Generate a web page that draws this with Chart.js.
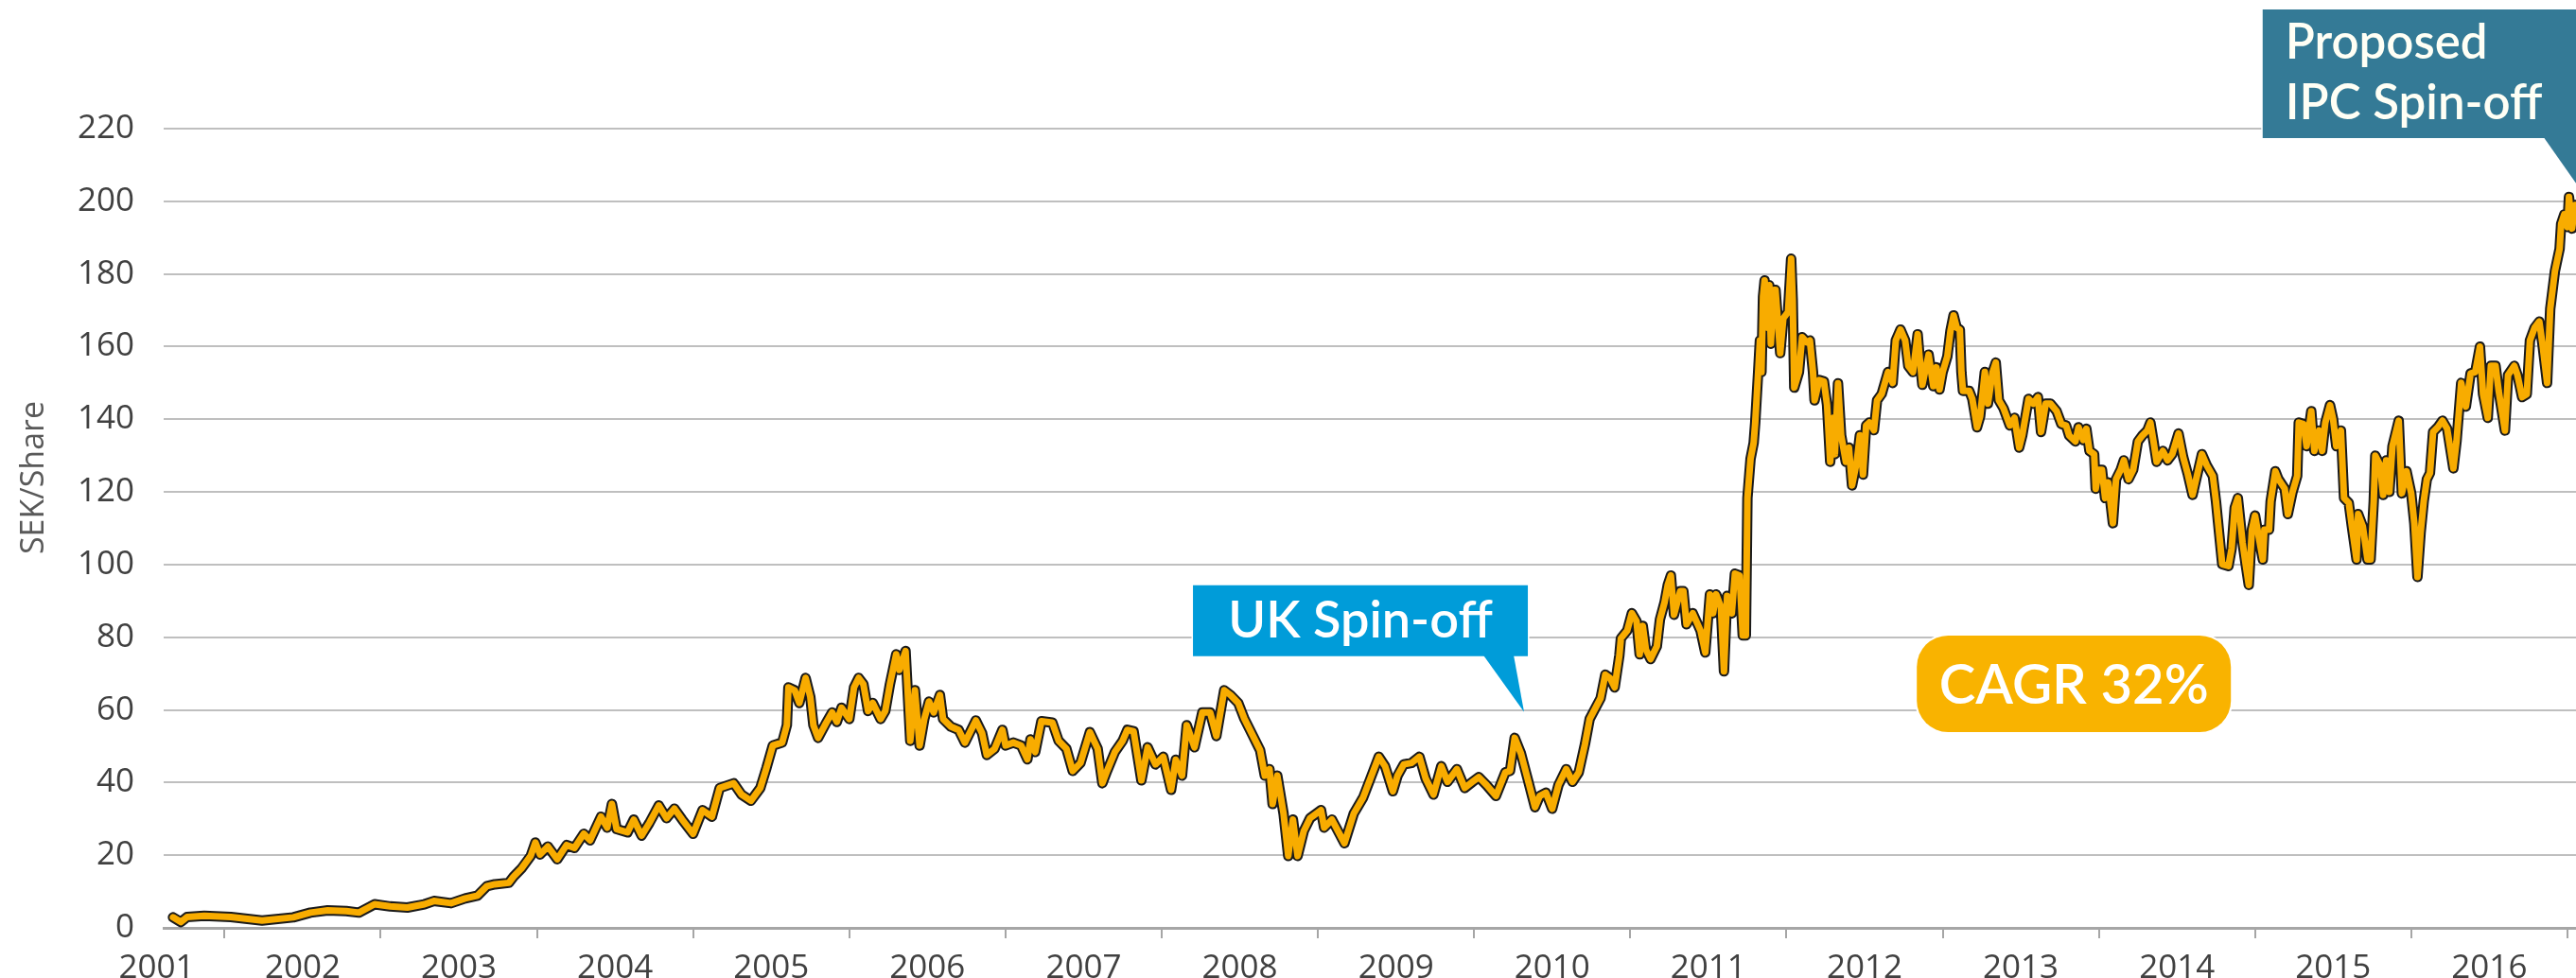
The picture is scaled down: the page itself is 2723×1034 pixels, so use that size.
<!DOCTYPE html>
<html>
<head>
<meta charset="utf-8">
<script src="https://cdn.jsdelivr.net/npm/chart.js@4.4.1/dist/chart.umd.min.js"></script>
<style>
  html, body { margin: 0; padding: 0; background: #fff; }
  #wrap { width: 2723px; height: 1034px; position: relative; }
</style>
</head>
<body>
<div id="wrap"><canvas id="priceChart"></canvas></div>
<script>
// share price, SEK (decimal years)
const dates = [
  2001.67, 2001.72, 2001.76, 2001.87, 2002.04, 2002.24, 2002.44, 2002.55, 2002.66, 2002.78,
  2002.86, 2002.96, 2003.06, 2003.17, 2003.28, 2003.34, 2003.45, 2003.54, 2003.62, 2003.68,
  2003.73, 2003.82, 2003.85, 2003.90, 2003.96, 2003.99, 2004.02, 2004.07, 2004.13, 2004.19,
  2004.24, 2004.30, 2004.34, 2004.41, 2004.45, 2004.48, 2004.51, 2004.58, 2004.62, 2004.67,
  2004.72, 2004.78, 2004.83, 2004.88, 2004.93, 2005.00, 2005.06, 2005.12, 2005.17, 2005.26,
  2005.31, 2005.37, 2005.43, 2005.47, 2005.51, 2005.57, 2005.60, 2005.61, 2005.65, 2005.68,
  2005.72, 2005.75, 2005.77, 2005.80, 2005.85, 2005.89, 2005.92, 2005.95, 2006.00, 2006.03,
  2006.06, 2006.09, 2006.12, 2006.15, 2006.20, 2006.23, 2006.26, 2006.30, 2006.32, 2006.36,
  2006.39, 2006.42, 2006.45, 2006.48, 2006.51, 2006.54, 2006.58, 2006.60, 2006.65, 2006.70,
  2006.74, 2006.81, 2006.85, 2006.88, 2006.93, 2006.98, 2007.00, 2007.05, 2007.10, 2007.14,
  2007.16, 2007.19, 2007.23, 2007.30, 2007.34, 2007.39, 2007.43, 2007.48, 2007.54, 2007.59,
  2007.62, 2007.65, 2007.70, 2007.75, 2007.78, 2007.82, 2007.87, 2007.91, 2007.96, 2008.01,
  2008.06, 2008.09, 2008.13, 2008.16, 2008.21, 2008.26, 2008.31, 2008.35, 2008.40, 2008.44,
  2008.49, 2008.53, 2008.58, 2008.63, 2008.66, 2008.69, 2008.71, 2008.74, 2008.78, 2008.81,
  2008.84, 2008.87, 2008.91, 2008.95, 2009.02, 2009.04, 2009.09, 2009.17, 2009.23, 2009.29,
  2009.34, 2009.39, 2009.43, 2009.48, 2009.51, 2009.55, 2009.60, 2009.65, 2009.69, 2009.74,
  2009.79, 2009.83, 2009.89, 2009.94, 2009.99, 2010.03, 2010.08, 2010.14, 2010.20, 2010.23,
  2010.26, 2010.30, 2010.34, 2010.39, 2010.42, 2010.46, 2010.50, 2010.54, 2010.59, 2010.63,
  2010.67, 2010.71, 2010.74, 2010.81, 2010.84, 2010.87, 2010.90, 2010.93, 2010.94, 2010.98,
  2011.01, 2011.04, 2011.06, 2011.08, 2011.10, 2011.13, 2011.17, 2011.19, 2011.22, 2011.24,
  2011.26, 2011.28, 2011.32, 2011.34, 2011.36, 2011.40, 2011.45, 2011.48, 2011.51, 2011.53,
  2011.55, 2011.58, 2011.60, 2011.62, 2011.65, 2011.67, 2011.70, 2011.72, 2011.74, 2011.75,
  2011.77, 2011.79, 2011.80, 2011.82, 2011.83, 2011.84, 2011.85, 2011.86, 2011.88, 2011.89,
  2011.90, 2011.92, 2011.93, 2011.96, 2011.98, 2012.01, 2012.03, 2012.04, 2012.05, 2012.08,
  2012.10, 2012.13, 2012.15, 2012.17, 2012.18, 2012.21, 2012.24, 2012.26, 2012.28, 2012.30,
  2012.31, 2012.33, 2012.35, 2012.38, 2012.40, 2012.42, 2012.45, 2012.47, 2012.49, 2012.51,
  2012.53, 2012.56, 2012.58, 2012.61, 2012.65, 2012.68, 2012.70, 2012.73, 2012.76, 2012.78,
  2012.81, 2012.84, 2012.85, 2012.87, 2012.91, 2012.94, 2012.96, 2012.98, 2013.00, 2013.03,
  2013.05, 2013.07, 2013.09, 2013.11, 2013.12, 2013.13, 2013.17, 2013.19, 2013.22, 2013.24,
  2013.27, 2013.29, 2013.32, 2013.34, 2013.36, 2013.39, 2013.43, 2013.46, 2013.49, 2013.51,
  2013.55, 2013.58, 2013.61, 2013.63, 2013.66, 2013.69, 2013.73, 2013.76, 2013.79, 2013.81,
  2013.85, 2013.87, 2013.90, 2013.92, 2013.94, 2013.97, 2013.98, 2014.00, 2014.02, 2014.04,
  2014.06, 2014.09, 2014.11, 2014.14, 2014.16, 2014.19, 2014.22, 2014.25, 2014.28, 2014.31,
  2014.33, 2014.35, 2014.37, 2014.41, 2014.44, 2014.47, 2014.51, 2014.54, 2014.57, 2014.60,
  2014.63, 2014.66, 2014.69, 2014.73, 2014.75, 2014.77, 2014.79, 2014.83, 2014.85, 2014.87,
  2014.89, 2014.92, 2014.94, 2014.96, 2014.98, 2015.00, 2015.03, 2015.05, 2015.06, 2015.09,
  2015.10, 2015.13, 2015.15, 2015.19, 2015.21, 2015.24, 2015.27, 2015.28, 2015.31, 2015.33,
  2015.36, 2015.38, 2015.41, 2015.43, 2015.45, 2015.48, 2015.50, 2015.52, 2015.55, 2015.57,
  2015.60, 2015.62, 2015.65, 2015.66, 2015.69, 2015.72, 2015.74, 2015.76, 2015.77, 2015.80,
  2015.82, 2015.84, 2015.86, 2015.88, 2015.92, 2015.94, 2015.97, 2016.00, 2016.02, 2016.04,
  2016.06, 2016.08, 2016.10, 2016.12, 2016.14, 2016.17, 2016.20, 2016.23, 2016.27, 2016.29,
  2016.32, 2016.35, 2016.38, 2016.41, 2016.44, 2016.46, 2016.49, 2016.51, 2016.54, 2016.56,
  2016.60, 2016.62, 2016.66, 2016.68, 2016.71, 2016.74, 2016.76, 2016.79, 2016.82, 2016.84,
  2016.87, 2016.89, 2016.92, 2016.95, 2016.96, 2016.98, 2017.00, 2017.01, 2017.03, 2017.05
];
const prices = [
  2.9, 1.6, 3.0, 3.3, 3.0, 2.0, 2.9, 4.2, 4.8, 4.6,
  4.2, 6.5, 5.9, 5.6, 6.5, 7.4, 6.8, 8.1, 8.9, 11.5,
  12.0, 12.4, 14.1, 16.3, 19.8, 23.5, 20.2, 22.4, 18.9, 22.8,
  22.0, 25.9, 24.1, 30.6, 27.6, 34.1, 27.2, 26.3, 29.8, 25.4,
  28.9, 33.7, 30.2, 32.8, 29.8, 25.9, 32.4, 30.6, 38.5, 39.8,
  36.7, 35.0, 38.5, 44.1, 50.2, 51.0, 55.8, 66.2, 65.4, 61.9,
  68.8, 63.6, 55.8, 52.3, 56.3, 59.3, 56.7, 60.6, 57.5, 66.2,
  68.8, 67.1, 59.7, 61.9, 57.5, 59.7, 67.1, 75.3, 71.0, 76.2,
  51.5, 65.4, 50.2, 57.5, 62.3, 59.3, 64.1, 57.5, 55.4, 54.5,
  51.0, 57.1, 53.6, 47.6, 49.3, 54.5, 50.2, 51.0, 50.2, 46.4,
  51.9, 48.4, 56.9, 56.5, 51.5, 49.3, 43.2, 45.4, 53.9, 49.3,
  39.8, 43.2, 48.4, 51.5, 54.5, 54.1, 40.6, 49.7, 45.0, 47.1,
  38.0, 46.3, 41.9, 55.8, 49.7, 59.3, 59.3, 52.8, 65.4, 64.1,
  61.9, 57.5, 53.2, 48.9, 41.9, 43.7, 34.1, 41.9, 31.5, 19.8,
  29.8, 19.8, 26.7, 30.2, 32.4, 27.6, 29.8, 23.3, 31.5, 35.9,
  41.5, 47.1, 44.5, 37.6, 41.9, 45.0, 45.4, 47.1, 41.1, 36.7,
  44.5, 40.2, 43.7, 38.5, 40.2, 41.5, 39.3, 36.3, 42.8, 43.2,
  52.3, 48.0, 41.5, 33.2, 36.3, 37.2, 32.8, 39.3, 43.7, 40.2,
  42.8, 50.6, 57.5, 63.2, 69.7, 68.8, 66.2, 74.9, 79.7, 81.8,
  86.6, 84.4, 75.3, 83.1, 76.6, 74.0, 77.5, 84.9, 89.7, 94.4,
  97.0, 86.2, 92.7, 92.7, 83.6, 86.6, 81.8, 75.8, 91.8, 86.6,
  91.8, 88.4, 70.6, 91.4, 86.6, 97.5, 97.0, 80.5, 80.5, 118.3,
  129.1, 133.5, 139.1, 153.9, 161.7, 153.0, 173.8, 178.2, 165.2, 176.9,
  160.8, 175.6, 175.6, 158.2, 167.8, 169.5, 184.2, 173.0, 148.7, 153.0,
  162.6, 161.2, 161.7, 153.0, 145.2, 150.8, 150.4, 143.9, 128.3, 140.4,
  130.4, 149.9, 135.6, 128.3, 132.2, 121.8, 128.3, 135.6, 124.8, 138.3,
  139.1, 137.0, 145.2, 147.0, 153.0, 150.0, 161.7, 164.7, 161.7, 154.7,
  153.0, 163.4, 158.2, 149.5, 157.8, 149.1, 154.3, 148.2, 153.0, 157.3,
  164.3, 168.6, 165.2, 164.7, 153.0, 147.8, 147.8, 145.6, 137.8, 140.8,
  153.0, 144.3, 153.0, 155.6, 145.2, 143.0, 138.3, 140.4, 132.2, 135.6,
  145.6, 144.3, 146.1, 136.5, 144.3, 144.3, 142.2, 138.7, 138.3, 135.5,
  133.9, 137.8, 134.3, 137.4, 131.3, 130.4, 120.9, 126.1, 126.1, 118.3,
  122.6, 111.4, 123.5, 126.1, 128.7, 123.5, 126.1, 133.9, 135.6, 136.9,
  139.1, 133.9, 128.3, 131.3, 128.7, 130.4, 136.1, 129.6, 124.8, 119.2,
  124.8, 130.4, 127.4, 124.4, 117.4, 108.7, 100.1, 99.6, 104.4, 115.7,
  118.3, 106.1, 100.1, 94.4, 109.6, 113.5, 106.1, 101.4, 109.6, 109.6,
  117.4, 125.7, 123.5, 120.9, 113.9, 120.0, 124.4, 139.1, 138.7, 132.6,
  142.2, 131.3, 136.9, 131.3, 139.1, 143.9, 140.0, 132.6, 136.9, 118.3,
  117.0, 110.5, 101.4, 113.9, 110.5, 101.4, 101.4, 117.4, 130.0, 127.4,
  119.2, 128.7, 120.0, 132.6, 139.6, 119.6, 125.7, 119.6, 111.3, 96.6,
  108.7, 117.4, 123.5, 125.2, 136.5, 137.8, 139.6, 137.4, 126.5, 133.9,
  150.0, 143.5, 152.6, 153.0, 160.0, 146.9, 140.4, 154.7, 154.7, 147.8,
  136.9, 152.2, 154.7, 152.2, 146.1, 146.9, 161.7, 165.2, 166.9, 160.8,
  150.0, 170.4, 180.8, 186.9, 193.8, 196.4, 192.9, 201.2, 192.5, 199.0
];
const yearLabels = [2001, 2002, 2003, 2004, 2005, 2006, 2007, 2008, 2009, 2010, 2011, 2012, 2013, 2014, 2015, 2016];
const yTicks = [0, 20, 40, 60, 80, 100, 120, 140, 160, 180, 200, 220];

// annotation anchors in data units
const ukTip = { x: 2010.32, y: 59.4 };
const ipcTip = { x: 2017.09, y: 202.8 };
const cagrCenter = { x: 2013.84, y: 67.2 };

const X_MIN = 2001.61;
const X_MAX = 2017.055;

const points = dates.map((d, i) => ({ x: d, y: prices[i] }));

function boxPath(ctx, x, y, w, h, r) {
  ctx.beginPath();
  ctx.moveTo(x + r, y);
  ctx.arcTo(x + w, y, x + w, y + h, r);
  ctx.arcTo(x + w, y + h, x, y + h, r);
  ctx.arcTo(x, y + h, x, y, r);
  ctx.arcTo(x, y, x + w, y, r);
  ctx.closePath();
}

const annotations = {
  id: 'annotations',
  afterDraw(chart) {
    const { ctx, scales: { x, y } } = chart;
    ctx.save();

    // y axis title
    ctx.save();
    ctx.translate(36, 505);
    ctx.rotate(-Math.PI / 2);
    ctx.font = '34px "Open Sans"';
    ctx.fillStyle = '#595959';
    ctx.textAlign = 'center';
    ctx.textBaseline = 'middle';
    ctx.fillText('SEK/Share', 0, 0);
    ctx.restore();

    // UK spin-off callout
    const ux = x.getPixelForValue(ukTip.x);
    const uy = y.getPixelForValue(ukTip.y);
    ctx.fillStyle = '#009CD9';
    ctx.strokeStyle = '#ffffff';
    ctx.lineWidth = 3;
    ctx.beginPath();
    ctx.rect(ux - 350, uy - 134, 354, 75);
    ctx.stroke();
    ctx.fill();
    ctx.beginPath();
    ctx.moveTo(ux - 43, uy - 60);
    ctx.lineTo(ux - 11, uy - 60);
    ctx.lineTo(ux, uy);
    ctx.closePath();
    ctx.fill();
    ctx.fillStyle = '#ffffff';
    ctx.font = '600 54px Lato';
    ctx.textAlign = 'center';
    ctx.textBaseline = 'alphabetic';
    ctx.fillText('UK Spin-off', ux - 173, uy - 79);

    // proposed IPC spin-off callout
    const ix = x.getPixelForValue(ipcTip.x);
    const iy = y.getPixelForValue(ipcTip.y);
    ctx.fillStyle = '#347A96';
    ctx.beginPath();
    ctx.rect(ix - 337, iy - 192, 360, 136);
    ctx.stroke();
    ctx.fill();
    ctx.beginPath();
    ctx.moveTo(ix - 40, iy - 57);
    ctx.lineTo(ix + 10, iy - 57);
    ctx.lineTo(ix, iy);
    ctx.closePath();
    ctx.fill();
    ctx.fillStyle = '#fffff5';
    ctx.font = '600 51px Lato';
    ctx.textAlign = 'left';
    ctx.fillText('Proposed', ix - 313, iy - 140);
    ctx.fillText('IPC Spin-off', ix - 313, iy - 76);

    // CAGR badge
    const cx = x.getPixelForValue(cagrCenter.x);
    const cy = y.getPixelForValue(cagrCenter.y);
    boxPath(ctx, cx - 166, cy - 51, 332, 102, 33);
    ctx.strokeStyle = '#ffffff';
    ctx.lineWidth = 4;
    ctx.stroke();
    ctx.fillStyle = '#F9B300';
    ctx.fill();
    ctx.fillStyle = '#ffffff';
    ctx.font = '600 58px Lato';
    ctx.textAlign = 'center';
    ctx.fillText('CAGR 32%', cx, cy + 21);

    ctx.restore();
  }
};

new Chart(document.getElementById('priceChart'), {
  type: 'line',
  data: {
    datasets: [
      {
        data: points,
        borderColor: '#F8AC00',
        borderWidth: 7,
        pointRadius: 0,
        tension: 0,
        borderJoinStyle: 'round',
        borderCapStyle: 'round',
        xAxisID: 'x',
        yAxisID: 'y'
      },
      {
        data: points,
        borderColor: '#1a1a1a',
        borderWidth: 11,
        pointRadius: 0,
        tension: 0,
        borderJoinStyle: 'round',
        borderCapStyle: 'round',
        xAxisID: 'x',
        yAxisID: 'y'
      }
    ]
  },
  options: {
    responsive: true,
    maintainAspectRatio: false,
    devicePixelRatio: 1,
    animation: false,
    parsing: false,
    layout: { padding: { top: 136, right: 0, left: 0, bottom: 0 } },
    plugins: {
      legend: { display: false },
      tooltip: { enabled: false }
    },
    scales: {
      x: {
        type: 'linear',
        position: 'bottom',
        min: X_MIN,
        max: X_MAX,
        weight: 0,
        afterBuildTicks: (scale) => {
          scale.ticks = yearLabels.map(v => ({ value: v + 1 }));
        },
        afterFit: (scale) => { scale.height = 11; },
        ticks: { display: false },
        grid: {
          drawOnChartArea: false,
          drawTicks: true,
          tickLength: 11,
          color: '#a6a6a6',
          lineWidth: 2
        },
        border: { display: true, color: '#a6a6a6', width: 3 }
      },
      xl: {
        type: 'linear',
        position: 'bottom',
        min: X_MIN,
        max: X_MAX,
        weight: 1,
        afterBuildTicks: (scale) => {
          // mid-year labels; the first one is held near the left edge of the axis
          scale.ticks = yearLabels.map(v => ({ value: Math.max(v + 0.5, X_MIN - 0.045) }));
        },
        afterFit: (scale) => { scale.height = 42; },
        grid: { display: false },
        border: { display: false },
        ticks: {
          autoSkip: false,
          maxRotation: 0,
          padding: 3,
          color: '#404040',
          font: { family: '"Open Sans"', size: 35 },
          callback: (value, index) => String(yearLabels[index])
        }
      },
      y: {
        min: 0,
        max: 220,
        afterBuildTicks: (scale) => {
          scale.ticks = yTicks.map(v => ({ value: v }));
        },
        afterFit: (scale) => { scale.width = 173; },
        grid: { color: '#bfbfbf', lineWidth: 2, drawTicks: false },
        border: { display: false },
        ticks: {
          padding: 31,
          color: '#404040',
          font: { family: '"Open Sans"', size: 35 }
        }
      }
    }
  },
  plugins: [annotations]
});
</script>
</body>
</html>
